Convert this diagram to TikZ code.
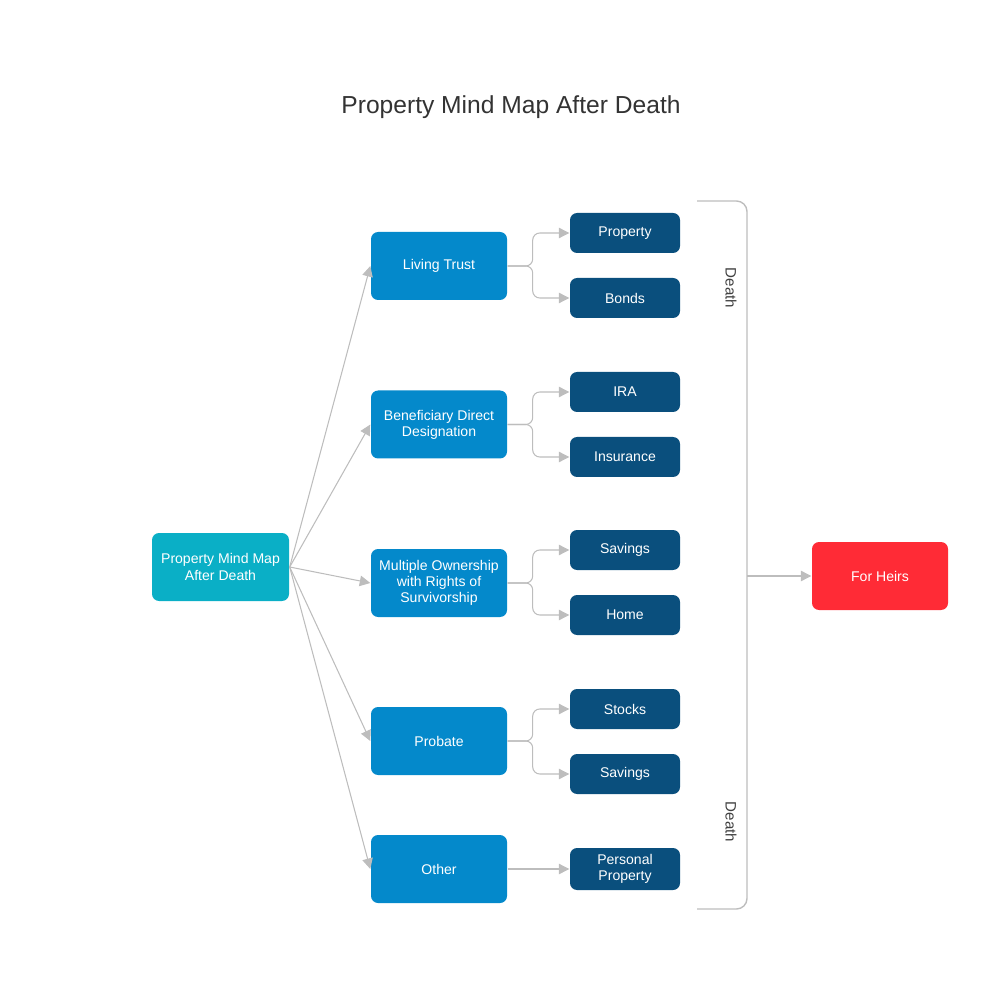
\documentclass[tikz,border=0pt]{standalone}
\usepackage{fontspec}
\setmainfont{Liberation Sans}
\usetikzlibrary{arrows.meta}
\definecolor{rootc}{HTML}{0AAFC6}
\definecolor{midc}{HTML}{0489CB}
\definecolor{leafc}{HTML}{0A4F7D}
\definecolor{heirc}{HTML}{FF2B36}
\definecolor{linec}{HTML}{BDBDBD}
\tikzset{
  box/.style={rounded corners=2pt, text=white, align=center, font=\fontsize{4}{4.6}\selectfont, inner sep=0pt},
  root/.style={box, fill=rootc, minimum width=1.37cm, minimum height=0.68cm},
  mid/.style={box, fill=midc, minimum width=1.36cm, minimum height=0.68cm},
  leaf/.style={box, fill=leafc, minimum width=1.1cm, minimum height=0.4cm},
  link/.style={draw=linec, line width=0.3pt, -{Triangle[length=3pt,width=3pt]}}
}
\begin{document}
\begin{tikzpicture}
    \useasboundingbox (0,0) rectangle (10,-10);

    % Title
    \node[font=\fontsize{7}{8}\selectfont, text=black!80] (title) at (5.11,-1.07) {Property Mind Map After Death};

    % Root and branches
    \node[root] (root) at (2.205,-5.67) {Property Mind Map\\After Death};
    \node[mid] (trust) at (4.39,-2.66) {Living Trust};
    \node[mid] (benef) at (4.39,-4.245) {Beneficiary Direct\\Designation};
    \node[mid] (multi) at (4.39,-5.83) {Multiple Ownership\\with Rights of\\Survivorship};
    \node[mid] (probate) at (4.39,-7.41) {Probate};
    \node[mid] (other) at (4.39,-8.69) {Other};

    % Leaves
    \node[leaf] (prop) at (6.25,-2.33) {Property};
    \node[leaf] (bonds) at (6.25,-2.98) {Bonds};
    \node[leaf] (ira) at (6.25,-3.92) {IRA};
    \node[leaf] (insur) at (6.25,-4.57) {Insurance};
    \node[leaf] (sav1) at (6.25,-5.50) {Savings};
    \node[leaf] (home) at (6.25,-6.15) {Home};
    \node[leaf] (stocks) at (6.25,-7.09) {Stocks};
    \node[leaf] (sav2) at (6.25,-7.74) {Savings};
    \node[leaf, minimum height=0.42cm] (pers) at (6.25,-8.69) {Personal\\Property};

    \node[box, fill=heirc, minimum width=1.36cm, minimum height=0.68cm] (heirs) at (8.80,-5.76) {For Heirs};

    % Root to branches
    \foreach \m in {trust,benef,multi,probate,other}
        \draw[link] (root.east) -- (\m.west);

    % Branches to leaves
    \foreach \m/\a/\b in {trust/prop/bonds, benef/ira/insur, multi/sav1/home, probate/stocks/sav2} {
        \draw[link, rounded corners=2pt] (\m.east) -- ++(0.25,0) |- (\a.west);
        \draw[link, rounded corners=2pt] (\m.east) -- ++(0.25,0) |- (\b.west);
    }
    \draw[link] (other.east) -- (pers.west);

    % Bracket
    \coordinate (btop) at (6.97,-2.01);
    \coordinate (bbot) at (6.97,-9.09);
    \coordinate (bmid) at (7.47,-5.76);
    \draw[linec, line width=0.4pt, rounded corners=3pt] (btop) -- (7.47,-2.01) -- (7.47,-9.09) -- (bbot);
    \draw[link] (bmid) -- (heirs.west);
    \node[rotate=-90, font=\fontsize{4.3}{5}\selectfont, text=black!75] (d1) at (7.31,-2.88) {Death};
    \node[rotate=-90, font=\fontsize{4.3}{5}\selectfont, text=black!75] (d2) at (7.31,-8.22) {Death};
\end{tikzpicture}
\end{document}
